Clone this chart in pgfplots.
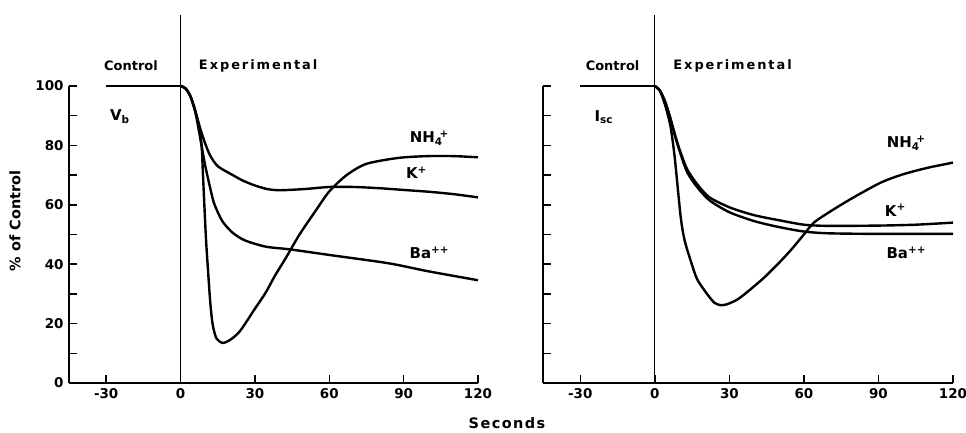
\documentclass[border=0pt]{standalone}
\usepackage{pgfplots}
\pgfplotsset{compat=1.18}
\usepackage{fontspec}
\setmainfont{DejaVu Sans}
\newcommand{\nhf}{NH\textsubscript{4}\textsuperscript{\kern-0.3em+}}
\newcommand{\lab}{\fontsize{15}{18}\selectfont\bfseries}
\begin{document}
\fontsize{13}{16}\selectfont\bfseries
\begin{tikzpicture}
\useasboundingbox (0,0) rectangle (966bp,433bp);
\pgfplotsset{
  myax/.style={
    at={(#1,50bp)}, anchor=south west, scale only axis,
    height=297bp,
    xmin=-45, xmax=120, ymin=0, ymax=100,
    axis x line=bottom, axis y line=left,
    axis line style={black, line width=1.8bp, -},
    xtick={-30,0,30,60,90,120},
    xticklabels={-30,0,30,60,90,120},
    ytick={0,20,...,100}, minor ytick={10,30,...,90},
    tick align=inside, major tick length=8bp, minor tick length=8bp,
    every tick/.style={black, line width=1.5bp},
    minor tick style={black, line width=1.5bp},
    tick label style={font=\fontsize{13.5}{16}\selectfont\bfseries, black},
    xticklabel style={yshift=-1bp},
    yticklabel style={xshift=-1bp},
    clip=false,
    cycle list={{black}},
    every axis plot post/.append style={black, no marks, line width=2.4bp, smooth, tension=0.45, line join=round},
  },
}
% ---------------- left panel: V_b ----------------
\begin{axis}[myax=69bp, width=409bp, yticklabels={0,20,40,60,80,100}]
\draw[line width=1.3bp] (axis cs:0,0) -- (axis cs:0,124);
\addplot coordinates {(-30,100) (0,100)};
% K+
\addplot coordinates {(0,100) (2,99.2) (4,96.5) (6,91.5) (8,85.5) (10,80.5) (12,76.5) (15,73) (20,70.5) (25,68.2) (30,66.5) (35,65.3) (40,64.9) (50,65.3) (60,66) (70,66) (80,65.6) (90,65) (100,64.4) (110,63.6) (120,62.5)};
% NH4+
\addplot coordinates {(0,100) (2,99.2) (4,96.5) (6,91.5) (7.5,86) (8.5,80) (9,71) (9.6,60) (10.3,48) (11,39) (12,27) (13,19.5) (14.5,15) (17,13.5) (20,14.5) (24,17.5) (30,25) (34.4,30.5) (38,36) (42.4,42) (48,50) (54.5,58) (60,64.5) (67,70) (75,73.8) (88,75.8) (100,76.4) (110,76.4) (120,76)};
% Ba++
\addplot coordinates {(0,100) (2,99.2) (4,96.5) (6,91) (7.6,84) (10,73) (13,62) (14.5,58.5) (17,54.3) (21,50.6) (26,48) (34.4,45.9) (44,45) (61,43) (84,40.3) (100,37.6) (120,34.6)};
\node at (axis cs:-20,106.7) {Control};
\node at (axis cs:31.3,106.7) {\addfontfeature{LetterSpace=15}Experimental};
\node at (axis cs:-24.5,89.6) {\lab V\textsubscript{b}};
\node at (axis cs:100.4,82.5) {\lab\nhf};
\node at (axis cs:95.2,70.7) {\lab K\textsuperscript{+}};
\node at (axis cs:100.4,43.8) {\lab Ba\textsuperscript{++}};
\end{axis}
% ---------------- right panel: I_sc ----------------
\begin{axis}[myax=543bp, width=410bp, yticklabels={}]
\draw[line width=1.3bp] (axis cs:0,0) -- (axis cs:0,124);
\addplot coordinates {(-30,100) (0,100)};
% K+
\addplot coordinates {(0,100) (2,98.5) (4,95) (6,90) (8,84) (10,78.5) (13,72) (17,67) (22,62.5) (30.5,59) (40,56.5) (50,54.8) (60,53.3) (70,52.9) (90,53) (105,53.3) (120,54)};
% Ba++
\addplot coordinates {(0,100) (2,98.5) (4,95) (6,89.5) (8,83.5) (10,78) (13,71) (17,66) (22,61.5) (30,57.5) (40,54.5) (50,52.5) (60,51) (70,50.4) (90,50.2) (120,50.2)};
% NH4+
\addplot coordinates {(0,100) (2,98.5) (4,94) (5,91) (6.4,86) (8,76) (10.4,56) (12,48) (14.5,41) (17,35) (21,30) (24,27) (26.5,26.2) (29,26.5) (33,28) (37,30.5) (44,35.5) (50.6,41) (55,45) (60,50) (64,54) (70.7,57.8) (80,62.5) (91,67.5) (100,70.3) (110,72.5) (120,74.2)};
\node at (axis cs:-17,106.7) {Control};
\node at (axis cs:31.3,106.7) {\addfontfeature{LetterSpace=15}Experimental};
\node at (axis cs:-20.5,89.6) {\lab I\textsubscript{sc}};
\node at (axis cs:101.2,80.8) {\lab\nhf};
\node at (axis cs:96.8,58.2) {\lab K\textsuperscript{+}};
\node at (axis cs:101.2,43.8) {\lab Ba\textsuperscript{++}};
\end{axis}
\node[rotate=90] at (15bp,212bp) {\fontsize{14.5}{17}\selectfont\bfseries \% of Control};
\node at (507bp,10bp) {\fontsize{14.5}{17}\selectfont\bfseries\addfontfeature{LetterSpace=10}Seconds};
\end{tikzpicture}
\end{document}
